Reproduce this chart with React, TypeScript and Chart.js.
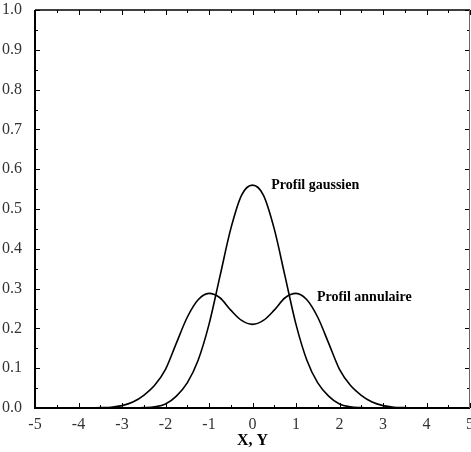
import React, { useEffect, useRef } from "react";
import { Chart, registerables } from "chart.js";

Chart.register(...registerables);

const xValues = [
  -5, -4.75, -4.5, -4.25, -4, -3.75, -3.5, -3.25, -3, -2.75, -2.5, -2.25, -2, -1.75, -1.5, -1.25, -1, -0.75, -0.5, -0.25,
  0, 0.25, 0.5, 0.75, 1, 1.25, 1.5, 1.75, 2, 2.25, 2.5, 2.75, 3, 3.25, 3.5, 3.75, 4, 4.25, 4.5, 4.75, 5,
];
const gaussien = [
  0, 0, 0, 0, 0, 0, 0, 0, 0, 0, 0.001, 0.003, 0.01, 0.03, 0.063, 0.12, 0.21, 0.33, 0.45, 0.535,
  0.56, 0.535, 0.45, 0.33, 0.21, 0.12, 0.063, 0.03, 0.01, 0.003, 0.001, 0, 0, 0, 0, 0, 0, 0, 0, 0, 0,
];
const annulaire = [
  0, 0, 0, 0, 0, 0, 0.001, 0.002, 0.006, 0.015, 0.032, 0.057, 0.097, 0.163, 0.228, 0.272, 0.288, 0.277, 0.246, 0.22,
  0.21, 0.22, 0.246, 0.277, 0.288, 0.272, 0.228, 0.163, 0.097, 0.057, 0.032, 0.015, 0.006, 0.002, 0.001, 0, 0, 0, 0, 0, 0,
];
const labels = [
  { text: "Profil gaussien", x: 0.43, y: 0.56 },
  { text: "Profil annulaire", x: 1.48, y: 0.279 },
];
const xTitle = "X, Y";

const framePlugin = {
  id: "frame",
  afterDatasetsDraw(chart: any) {
    const { ctx, chartArea: a, scales } = chart;
    const xs = scales.x;
    const ys = scales.y;
    ctx.save();
    ctx.strokeStyle = "#000";
    ctx.lineWidth = 1;
    ctx.beginPath();
    for (let i = -10; i <= 10; i++) {
      const v = i / 2;
      const px = Math.round(xs.getPixelForValue(v)) + 0.5;
      const len = i % 2 === 0 ? 5 : 3;
      ctx.moveTo(px, a.bottom);
      ctx.lineTo(px, a.bottom - len);
      ctx.moveTo(px, a.top);
      ctx.lineTo(px, a.top + len);
    }
    for (let i = 0; i <= 20; i++) {
      const v = i / 20;
      const py = Math.round(ys.getPixelForValue(v)) + 0.5;
      const len = i % 2 === 0 ? 5 : 3;
      ctx.moveTo(a.left, py);
      ctx.lineTo(a.left + len, py);
      ctx.moveTo(a.right, py);
      ctx.lineTo(a.right - len, py);
    }
    ctx.stroke();
    ctx.strokeStyle = "#000";
    ctx.lineWidth = 2;
    ctx.beginPath();
    ctx.moveTo(a.left, a.top);
    ctx.lineTo(a.left, a.bottom);
    ctx.lineTo(a.right, a.bottom);
    ctx.stroke();
    ctx.lineWidth = 1.5;
    ctx.beginPath();
    ctx.moveTo(a.left, a.top);
    ctx.lineTo(a.right, a.top);
    ctx.stroke();
    ctx.strokeStyle = "#666";
    ctx.lineWidth = 1;
    ctx.beginPath();
    ctx.moveTo(a.right - 0.5, a.top);
    ctx.lineTo(a.right - 0.5, a.bottom);
    ctx.stroke();
    ctx.fillStyle = "#000";
    ctx.font = "bold 14px 'Liberation Serif', serif";
    ctx.textBaseline = "middle";
    ctx.textAlign = "left";
    for (const l of labels) {
      ctx.fillText(l.text, xs.getPixelForValue(l.x), ys.getPixelForValue(l.y));
    }
    ctx.restore();
  },
};

export default function App() {
  const ref = useRef<HTMLCanvasElement>(null);
  useEffect(() => {
    document.body.style.margin = "0";
    const chart = new Chart(ref.current!, {
      type: "line",
      data: {
        datasets: [
          {
            data: xValues.map((x, i) => ({ x, y: gaussien[i] })),
            borderColor: "#000",
            borderWidth: 1.6,
            pointRadius: 0,
            cubicInterpolationMode: "monotone",
            fill: false,
          },
          {
            data: xValues.map((x, i) => ({ x, y: annulaire[i] })),
            borderColor: "#000",
            borderWidth: 1.6,
            pointRadius: 0,
            cubicInterpolationMode: "monotone",
            fill: false,
          },
        ],
      },
      options: {
        animation: false,
        responsive: false,
        maintainAspectRatio: false,
        layout: { padding: { top: 10, right: 1, left: 0, bottom: 0 } },
        plugins: { legend: { display: false }, tooltip: { enabled: false } },
        scales: {
          x: {
            type: "linear",
            min: -5,
            max: 5,
            grid: { display: false },
            border: { display: false },
            ticks: {
              stepSize: 1,
              autoSkip: false,
              maxRotation: 0,
              padding: -1,
              color: "#333",
              font: { family: "'Liberation Serif', serif", size: 16 },
            },
            title: {
              display: true,
              text: xTitle,
              color: "#000",
              font: { family: "'Liberation Serif', serif", size: 16, weight: "bold" },
              padding: { top: 0, bottom: 2 },
            },
            afterFit: (s: any) => {
              s.height = 44;
              s.paddingLeft = 0;
              s.paddingRight = 0;
            },
          },
          y: {
            type: "linear",
            min: 0,
            max: 1,
            grid: { display: false },
            border: { display: false },
            ticks: {
              stepSize: 0.1,
              padding: 5,
              color: "#333",
              font: { family: "'Liberation Serif', serif", size: 16 },
              callback: (v: any) => Number(v).toFixed(1),
            },
            afterFit: (s: any) => {
              s.width = 35;
              s.paddingTop = 0;
              s.paddingBottom = 0;
            },
          },
        },
      },
      plugins: [framePlugin],
    });
    return () => chart.destroy();
  }, []);
  return (
    <div style={{ width: 471, height: 452 }}>
      <canvas ref={ref} width={471} height={452} style={{ display: "block" }} />
    </div>
  );
}
